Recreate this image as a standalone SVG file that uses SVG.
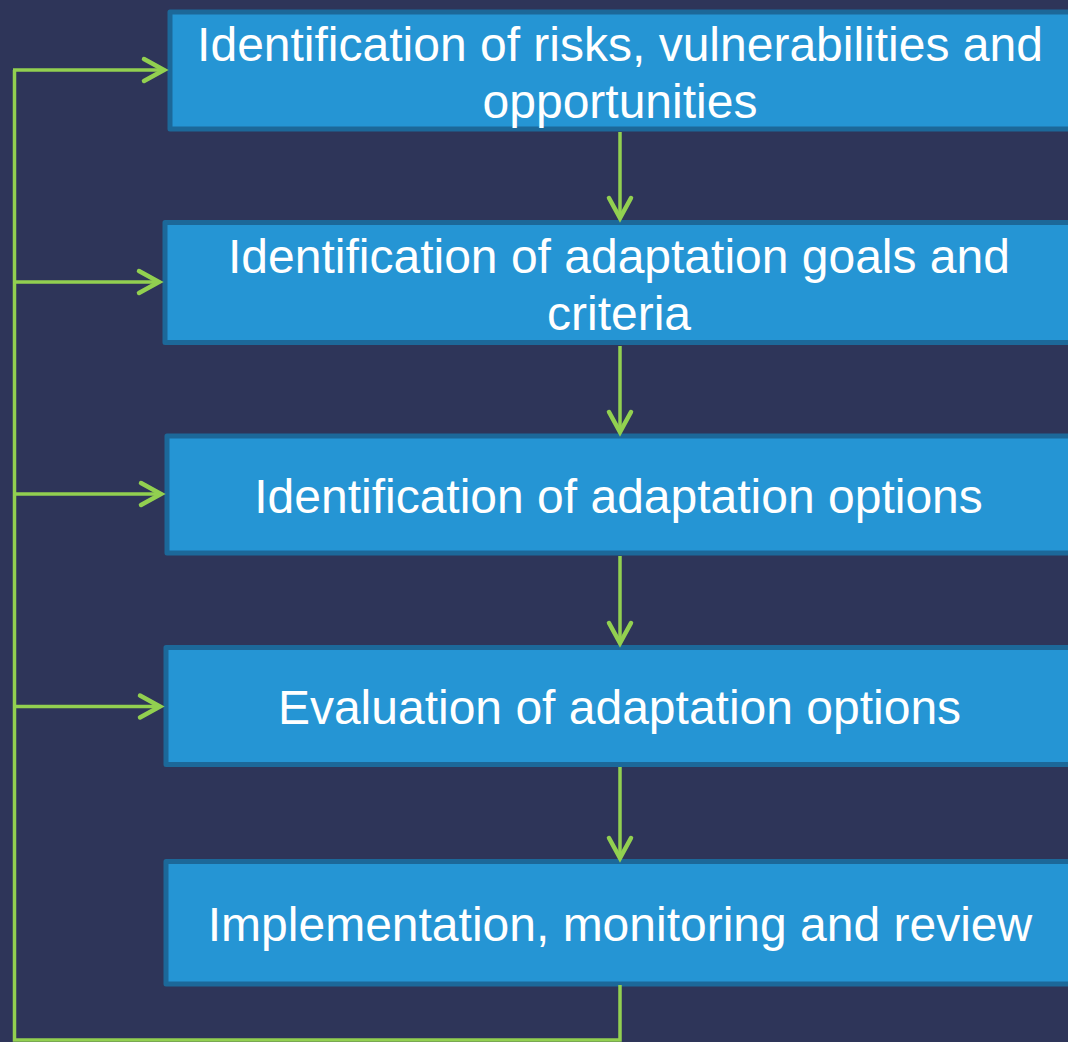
<svg xmlns="http://www.w3.org/2000/svg" width="1068" height="1042" viewBox="0 0 1068 1042">
  <style>
    .step { fill: #2595d4; stroke: #1c6899; stroke-width: 5; stroke-linejoin: round; }
    .label { font-family: "Liberation Sans", Arial, sans-serif; font-size: 48px; fill: #ffffff; text-anchor: middle; }
    .flow { fill: none; stroke: #92d050; stroke-width: 3.5; }
    .loop { fill: none; stroke: #92d050; stroke-width: 3.5; stroke-linejoin: miter; }
  </style>
  <defs>
    <marker id="chevron" markerUnits="userSpaceOnUse" markerWidth="30" markerHeight="30" viewBox="-24 -15 30 30" refX="0" refY="0" orient="auto" overflow="visible">
      <path d="M-20,-11 L0,0 L-20,11" fill="none" stroke="#92d050" stroke-width="4.5" stroke-linejoin="miter" stroke-linecap="round"/>
    </marker>
  </defs>

  <!-- background -->
  <rect x="0" y="0" width="1068" height="1042" fill="#2e3559"/>

  <!-- process steps -->
  <g id="step-risks">
    <rect class="step" x="170" y="12" width="910" height="117"/>
    <text class="label" x="620" y="61">Identification of risks, vulnerabilities and</text>
    <text class="label" x="620" y="118">opportunities</text>
  </g>
  <g id="step-goals">
    <rect class="step" x="165" y="222.5" width="915" height="120"/>
    <text class="label" x="619" y="273">Identification of adaptation goals and</text>
    <text class="label" x="619" y="330">criteria</text>
  </g>
  <g id="step-options">
    <rect class="step" x="167" y="436" width="913" height="117"/>
    <text class="label" x="618.5" y="513">Identification of adaptation options</text>
  </g>
  <g id="step-evaluation">
    <rect class="step" x="166" y="647.5" width="914" height="117"/>
    <text class="label" x="619.5" y="724">Evaluation of adaptation options</text>
  </g>
  <g id="step-implementation">
    <rect class="step" x="166" y="861.5" width="914" height="122.5"/>
    <text class="label" x="620" y="941">Implementation, monitoring and review</text>
  </g>

  <!-- connectors -->
  <g id="connectors">
    <!-- downward flow between steps -->
    <line class="flow" x1="620" y1="132" x2="620" y2="218" marker-end="url(#chevron)"/>
    <line class="flow" x1="620" y1="346" x2="620" y2="432" marker-end="url(#chevron)"/>
    <line class="flow" x1="620" y1="556" x2="620" y2="643" marker-end="url(#chevron)"/>
    <line class="flow" x1="620" y1="767" x2="620" y2="858" marker-end="url(#chevron)"/>

    <!-- feedback loop from the last step back to every earlier step -->
    <polyline class="loop" points="620,985 620,1040 14.5,1040 14.5,70"/>
    <line class="flow" x1="13" y1="70" x2="164" y2="70" marker-end="url(#chevron)"/>
    <line class="flow" x1="14.5" y1="282" x2="159" y2="282" marker-end="url(#chevron)"/>
    <line class="flow" x1="14.5" y1="494" x2="161" y2="494" marker-end="url(#chevron)"/>
    <line class="flow" x1="14.5" y1="706.5" x2="160" y2="706.5" marker-end="url(#chevron)"/>
  </g>
</svg>
